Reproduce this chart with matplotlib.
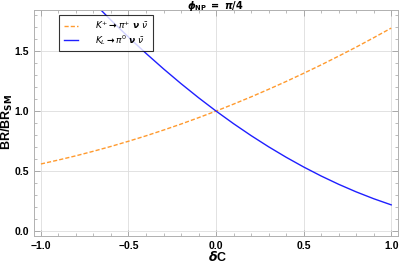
import numpy as np
import matplotlib
matplotlib.use('Agg')
import matplotlib.pyplot as plt
from matplotlib.ticker import MultipleLocator

# values
dC = [-1.0, -0.9, -0.8, -0.7, -0.6, -0.5, -0.4, -0.3, -0.2, -0.1, 0.0,
      0.1, 0.2, 0.3, 0.4, 0.5, 0.6, 0.7, 0.8, 0.9, 1.0]
br_kplus = [0.56, 0.593, 0.628, 0.666, 0.706, 0.749, 0.794, 0.842, 0.892, 0.945, 1.0,
            1.058, 1.118, 1.181, 1.246, 1.314, 1.384, 1.457, 1.532, 1.610, 1.69]
br_kl = [2.38, 2.215, 2.056, 1.903, 1.756, 1.615, 1.48, 1.351, 1.228, 1.111, 1.0,
         0.895, 0.796, 0.703, 0.616, 0.535, 0.46, 0.391, 0.328, 0.271, 0.22]

labels = [r'$\boldsymbol{K^{+} \rightarrow \pi^{+}\ \nu\ \bar{\nu}}$',
          r'$\boldsymbol{K_{L} \rightarrow \pi^{0}\ \nu\ \bar{\nu}}$']

plt.rcParams['font.family'] = ['Liberation Sans', 'DejaVu Sans']
plt.rcParams['mathtext.fontset'] = 'dejavusans'
fig = plt.figure(figsize=(3.99, 2.65), dpi=100)
ax = fig.add_axes([0.085, 0.109, 0.913, 0.853])

ax.plot(dC, br_kplus, color='#FF9A2E', ls=(0, (3, 1.5)), lw=1.0, label=labels[0])
ax.plot(dC, br_kl, color='#1F1FFF', lw=1.0, label=labels[1])

ax.set_xlim(-1.04, 1.04)
ax.set_ylim(-0.04, 1.84)
ax.xaxis.set_major_locator(MultipleLocator(0.5))
ax.xaxis.set_minor_locator(MultipleLocator(0.1))
ax.yaxis.set_major_locator(MultipleLocator(0.5))
ax.yaxis.set_minor_locator(MultipleLocator(0.1))
ax.grid(True, which='major', color='#DDDDDD', lw=0.6)
ax.set_axisbelow(True)
for s in ax.spines.values():
    s.set_color('#B0B0B0')
    s.set_linewidth(0.7)
ax.tick_params(which='both', direction='in', color='#A0A0A0', top=True, right=True,
               labelsize=7.5)
ax.tick_params(which='major', length=4, width=0.6)
ax.tick_params(which='minor', length=2, width=0.5)
for t in ax.get_xticklabels() + ax.get_yticklabels():
    t.set_fontweight('bold')

fig.text(0.546, 0.030, r'$\boldsymbol{\delta}$C', fontsize=9, fontweight='bold',
         ha='center', va='center')
fig.text(0.018, 0.54, r'BR/BR$_{\mathbf{SM}}$', fontsize=9, fontweight='bold',
         ha='center', va='center', rotation=90)
fig.text(0.541, 0.978,
         r'$\boldsymbol{\phi}_{\mathbf{NP}}\ \mathbf{=}\ \boldsymbol{\pi}\mathbf{/4}$',
         fontsize=7, ha='center', va='center')

leg = ax.legend(loc='upper left', bbox_to_anchor=(0.07, 0.98), fontsize=6.5,
                frameon=True, fancybox=False, handlelength=1.6, handletextpad=1.8,
                borderpad=0.5, labelspacing=0.25, borderaxespad=0)
leg.get_frame().set_edgecolor('black')
leg.get_frame().set_linewidth(0.8)

fig.savefig('out.png', dpi=100)
